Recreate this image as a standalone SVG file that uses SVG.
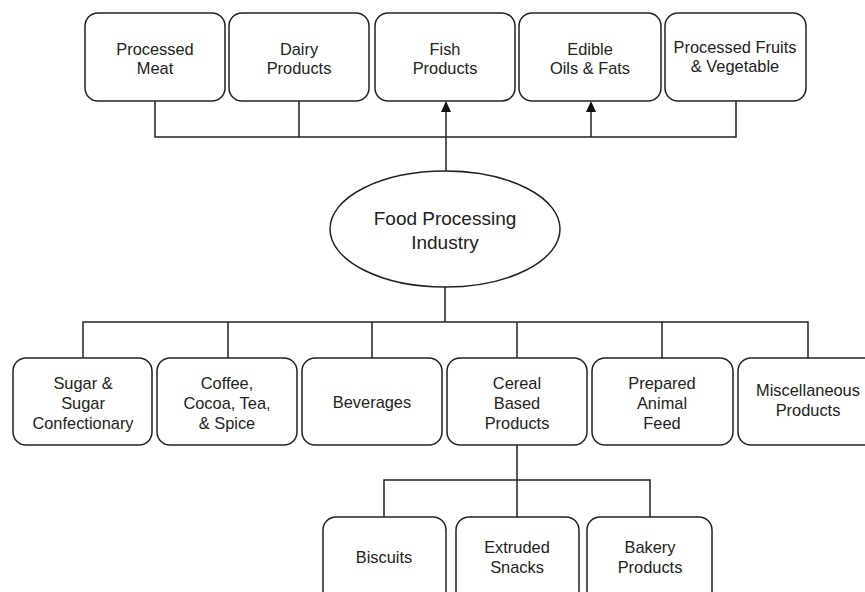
<svg xmlns="http://www.w3.org/2000/svg" width="865" height="592" viewBox="0 0 865 592">
<style>
.box{fill:#fff;stroke:#222;stroke-width:1.5}
.ell{fill:#fff;stroke:#222;stroke-width:1.5}
.ln{fill:none;stroke:#222;stroke-width:1.5}
.ah{fill:#111;stroke:none}
text{font-family:"Liberation Sans",Arial,sans-serif;font-size:16.4px;fill:#222;text-anchor:middle}
.big{font-size:19px}
</style>
<rect width="865" height="592" fill="#fff"/>
<g id="connectors">
<path class="ln" d="M155,101 V137 H736 V101 M299,101 V137"/>
<line class="ln" x1="446" y1="171" x2="446" y2="110"/>
<polygon class="ah" points="446,101 441,112 451,112"/>
<line class="ln" x1="591" y1="137" x2="591" y2="110"/>
<polygon class="ah" points="591,101 586,112 596,112"/>
<path class="ln" d="M445,287 V322 M83,358 V322 H808 V358 M228,322 V358 M372,322 V358 M517,322 V358 M662,322 V358"/>
<path class="ln" d="M517,445 V517 M384,517 V480 H650 V517"/>
</g>
<g id="processed-meat"><rect class="box" x="85" y="13" width="140" height="88" rx="13"/><text x="155" y="55">Processed</text><text x="155" y="74">Meat</text></g>
<g id="dairy"><rect class="box" x="229" y="13" width="140" height="88" rx="13"/><text x="299" y="55">Dairy</text><text x="299" y="74">Products</text></g>
<g id="fish"><rect class="box" x="375" y="13" width="140" height="88" rx="13"/><text x="445" y="55">Fish</text><text x="445" y="74">Products</text></g>
<g id="oils"><rect class="box" x="519" y="13" width="142" height="88" rx="13"/><text x="590" y="55">Edible</text><text x="590" y="74">Oils &amp; Fats</text></g>
<g id="fruits"><rect class="box" x="665" y="13" width="141" height="88" rx="13"/><text x="735" y="53">Processed Fruits</text><text x="735" y="72">&amp; Vegetable</text></g>
<g id="industry"><ellipse class="ell" cx="445" cy="229" rx="115" ry="58"/><text class="big" x="445" y="225">Food Processing</text><text class="big" x="445" y="249">Industry</text></g>
<g id="sugar"><rect class="box" x="13" y="358" width="139" height="87" rx="13"/><text x="83" y="389">Sugar &amp;</text><text x="83" y="409">Sugar</text><text x="83" y="429">Confectionary</text></g>
<g id="coffee"><rect class="box" x="157" y="358" width="140" height="87" rx="13"/><text x="227" y="389">Coffee,</text><text x="227" y="409">Cocoa, Tea,</text><text x="227" y="429">&amp; Spice</text></g>
<g id="beverages"><rect class="box" x="302" y="358" width="140" height="87" rx="13"/><text x="372" y="408">Beverages</text></g>
<g id="cereal"><rect class="box" x="447" y="358" width="140" height="87" rx="13"/><text x="517" y="389">Cereal</text><text x="517" y="409">Based</text><text x="517" y="429">Products</text></g>
<g id="feed"><rect class="box" x="592" y="358" width="141" height="87" rx="13"/><text x="662" y="389">Prepared</text><text x="662" y="409">Animal</text><text x="662" y="429">Feed</text></g>
<g id="misc"><rect class="box" x="738" y="358" width="140" height="87" rx="13"/><text x="808" y="396">Miscellaneous</text><text x="808" y="416">Products</text></g>
<g id="biscuits"><rect class="box" x="323" y="517" width="123" height="87" rx="13"/><text x="384" y="563">Biscuits</text></g>
<g id="extruded"><rect class="box" x="456" y="517" width="123" height="87" rx="13"/><text x="517" y="553">Extruded</text><text x="517" y="573">Snacks</text></g>
<g id="bakery"><rect class="box" x="587" y="517" width="125" height="87" rx="13"/><text x="650" y="553">Bakery</text><text x="650" y="573">Products</text></g>
</svg>
